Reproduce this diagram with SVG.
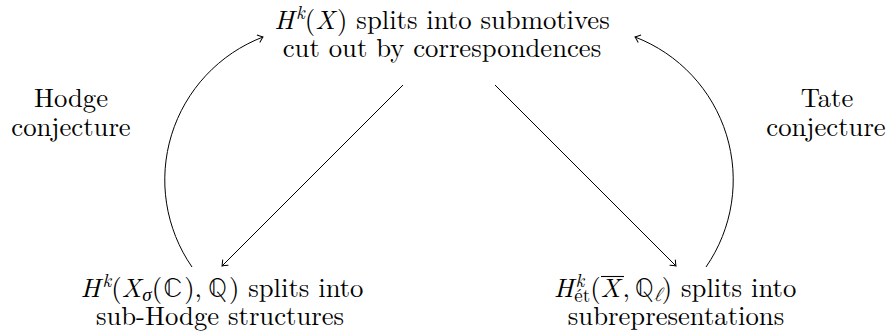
<svg xmlns="http://www.w3.org/2000/svg" width="889" height="336" viewBox="0 0 889 336">
<style>
text{font-size:26.7px;fill:#000;text-anchor:middle}
.i{font-style:italic}
.s{font-size:19px}
.bb{font-size:28.5px}
.c{fill:none;stroke:#000;stroke-width:1}
</style>
<defs>
<marker id="ah" markerUnits="userSpaceOnUse" markerWidth="12" markerHeight="12" viewBox="-8 -6 10 12" refX="0" refY="0" orient="auto" overflow="visible">
<path d="M-5,-4 Q-1.5,-1 0,0 Q-1.5,1 -5,4" fill="none" stroke="#000" stroke-width="1"/>
</marker>
</defs>
<g id="connectors">
<path class="c" d="M403,85 L222,266" marker-end="url(#ah)"/>
<path class="c" d="M495,85 L676,266" marker-end="url(#ah)"/>
<path class="c" d="M192,267 A153,153 0 0 1 263,37" marker-end="url(#ah)"/>
<path class="c" d="M706,267 A153,153 0 0 0 635,37" marker-end="url(#ah)"/>
</g>
<g id="top">
<text x="442" y="29" font-family="Latin Modern Roman, Liberation Serif, serif"><tspan class="i">H</tspan><tspan class="i s" dx="2" dy="-10">k</tspan><tspan dy="10">(</tspan><tspan class="i">X</tspan><tspan dx="2">) splits into submotives</tspan></text>
<text x="442" y="57" font-family="Latin Modern Roman, Liberation Serif, serif">cut out by correspondences</text>
</g>
<g id="hodge-label">
<text x="71" y="107" font-family="Latin Modern Roman, Liberation Serif, serif">Hodge</text>
<text x="71" y="136" font-family="Latin Modern Roman, Liberation Serif, serif">conjecture</text>
</g>
<g id="tate-label">
<text x="827" y="107" font-family="Latin Modern Roman, Liberation Serif, serif">Tate</text>
<text x="826" y="136" font-family="Latin Modern Roman, Liberation Serif, serif">conjecture</text>
</g>
<g id="bottom-left">
<text x="222" y="297" font-family="Latin Modern Roman, Liberation Serif, serif"><tspan class="i">H</tspan><tspan class="i s" dx="2" dy="-10">k</tspan><tspan dy="10">(</tspan><tspan class="i">X</tspan><tspan class="i s" dx="1" dy="4">σ</tspan><tspan dy="-4">(</tspan><tspan class="bb" dx="1" font-family="Latin Modern Math, DejaVu Serif, serif">ℂ</tspan><tspan dx="2">),</tspan><tspan class="bb" dx="6" font-family="Latin Modern Math, DejaVu Serif, serif">ℚ</tspan><tspan dx="2">) splits into</tspan></text>
<text x="220" y="325" font-family="Latin Modern Roman, Liberation Serif, serif">sub-Hodge structures</text>
</g>
<g id="bottom-right">
<text x="675" y="297" font-family="Latin Modern Roman, Liberation Serif, serif"><tspan class="i">H</tspan><tspan class="i s" dx="2" dy="-10">k</tspan><tspan class="s" dx="-10" dy="15">ét</tspan><tspan dy="-5">(</tspan><tspan class="i">X</tspan><tspan dx="2">,</tspan><tspan class="bb" dx="5" font-family="Latin Modern Math, DejaVu Serif, serif">ℚ</tspan><tspan class="i s" dy="4" font-family="Latin Modern Math, DejaVu Serif, serif">ℓ</tspan><tspan dy="-4">)</tspan> splits into</text>
<line x1="601" y1="276.5" x2="624" y2="276.5" stroke="#000" stroke-width="1.1"/>
<text x="676" y="325" font-family="Latin Modern Roman, Liberation Serif, serif">subrepresentations</text>
</g>
</svg>
